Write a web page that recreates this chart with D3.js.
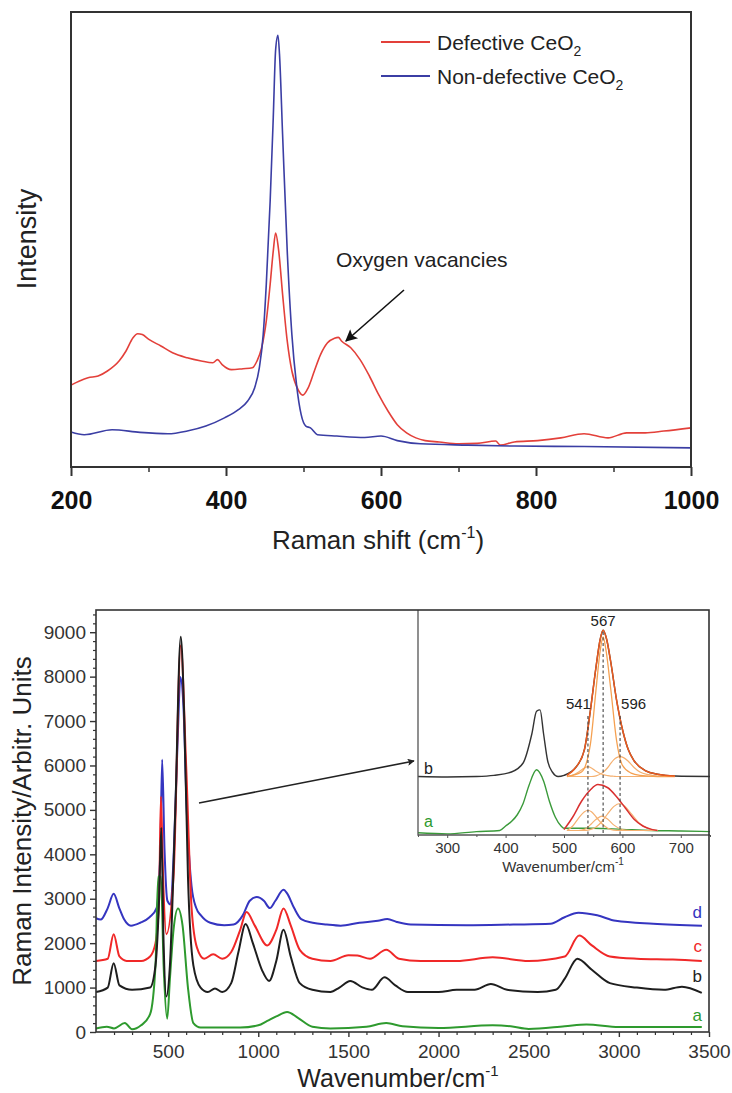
<!DOCTYPE html>
<html>
<head>
<meta charset="utf-8">
<script src="https://cdn.jsdelivr.net/npm/d3@7"></script>
<style>
  body { margin: 0; background: #fff; }
  svg { display: block; font-family: "Liberation Sans", Arial, sans-serif; }
</style>
</head>
<body>
<svg id="chart" width="732" height="1093"></svg>
<script>
// ---------- top chart data (Raman shift, arbitrary intensity 0-100) ----------
var defectiveShift = [200, 211, 222, 235, 247, 262, 271, 280, 286, 292, 301, 316, 331, 350, 368, 383, 389, 395, 407, 422, 434, 440, 446, 452, 457, 461, 464, 468, 473, 479, 485, 493, 499, 506, 514, 522, 531, 540, 545, 549, 561, 573, 585, 597, 609, 621, 633, 645, 657, 675, 700, 724, 748, 754, 772, 802, 832, 862, 893, 917, 941, 965, 1000];
var defectiveInt = [18.0, 18.9, 19.6, 20.0, 21.1, 23.3, 25.5, 28.4, 29.3, 29.1, 28.0, 26.6, 25.1, 24.0, 23.3, 22.9, 23.6, 22.5, 21.4, 21.6, 21.8, 23.3, 26.2, 32.1, 40.2, 47.5, 51.4, 47.5, 38.0, 27.7, 21.1, 17.0, 15.8, 17.4, 21.1, 24.7, 27.3, 28.3, 28.5, 27.7, 26.2, 23.6, 20.0, 15.9, 12.3, 9.3, 7.5, 6.4, 5.8, 5.5, 5.1, 5.2, 5.7, 4.8, 5.5, 5.8, 6.4, 7.3, 6.4, 7.5, 7.5, 7.9, 8.6];
var nonDefShift = [200, 217, 253, 289, 325, 350, 374, 398, 416, 428, 437, 443, 448, 452, 457, 461, 464, 467, 469, 473, 479, 485, 491, 497, 503, 509, 518, 543, 579, 600, 621, 651, 712, 772, 862, 1000];
var nonDefInt = [7.7, 7.1, 8.2, 7.6, 7.3, 7.9, 9.0, 10.8, 12.6, 14.5, 17.4, 21.8, 29.1, 40.2, 58.5, 76.9, 91.6, 94.9, 90.8, 73.2, 47.5, 29.1, 18.1, 11.5, 9.0, 8.6, 7.1, 6.8, 6.5, 6.8, 5.8, 5.1, 4.8, 4.6, 4.5, 4.2];
var topTicks = [200, 400, 600, 800, 1000];
var topMinor = [300, 500, 700, 900];

// ---------- bottom chart data (Wavenumber, intensity) ----------
var wnD = [100, 126, 165, 198, 229, 255, 294, 346, 397, 436, 457, 467, 480, 496, 514, 532, 553, 568, 584, 604, 630, 656, 682, 734, 811, 863, 914, 953, 992, 1031, 1064, 1095, 1140, 1160, 1199, 1238, 1302, 1380, 1457, 1561, 1664, 1716, 1768, 1845, 2156, 2414, 2621, 2699, 2776, 2880, 2983, 3190, 3461];
var intD = [2560, 2530, 2790, 3110, 2790, 2543, 2394, 2460, 2584, 2790, 4112, 6130, 4112, 2955, 2873, 4112, 6589, 7990, 7415, 4938, 3286, 2790, 2626, 2460, 2403, 2419, 2626, 2955, 3039, 2955, 2790, 2955, 3204, 3121, 2790, 2543, 2460, 2419, 2394, 2460, 2502, 2543, 2477, 2419, 2403, 2419, 2436, 2584, 2683, 2626, 2502, 2436, 2394];
var wnC = [100, 165, 198, 230, 270, 350, 400, 430, 450, 460, 472, 490, 530, 570, 600, 630, 660, 700, 750, 800, 850, 900, 935, 980, 1050, 1100, 1140, 1180, 1230, 1300, 1400, 1500, 1550, 1620, 1710, 1780, 1900, 2100, 2300, 2500, 2700, 2780, 2850, 2950, 3100, 3300, 3460];
var intC = [1600, 1650, 2200, 1700, 1600, 1600, 1700, 2000, 3000, 5300, 3500, 2200, 3500, 8700, 6000, 2800, 1900, 1650, 1750, 1650, 1800, 2300, 2700, 2400, 1950, 2300, 2780, 2400, 1850, 1650, 1600, 1730, 1720, 1650, 1850, 1650, 1600, 1600, 1680, 1600, 1700, 2170, 1950, 1700, 1650, 1630, 1600];
var wnB = [100, 165, 198, 230, 300, 400, 430, 450, 462, 475, 490, 510, 540, 570, 590, 610, 640, 680, 720, 760, 800, 850, 890, 930, 970, 1020, 1060, 1100, 1140, 1180, 1230, 1300, 1400, 1450, 1510, 1580, 1630, 1700, 1760, 1830, 2000, 2100, 2200, 2290, 2380, 2550, 2650, 2700, 2770, 2850, 2950, 3100, 3250, 3350, 3460];
var intB = [900, 1000, 1550, 1050, 950, 1000, 1500, 3000, 4600, 2000, 800, 1500, 5000, 8900, 7000, 3500, 1500, 1000, 900, 980, 900, 1100, 1800, 2430, 2000, 1400, 1150, 1600, 2300, 1700, 1100, 950, 900, 1000, 1150, 1000, 950, 1230, 1050, 900, 900, 950, 950, 1080, 950, 900, 950, 1200, 1650, 1400, 1100, 1000, 950, 1020, 880];
var wnA = [100, 160, 200, 260, 300, 350, 400, 430, 445, 460, 475, 495, 510, 530, 555, 580, 610, 640, 680, 900, 1000, 1050, 1100, 1160, 1220, 1300, 1400, 1600, 1710, 1800, 2000, 2300, 2400, 2500, 2700, 2820, 3000, 3460];
var intA = [80, 120, 80, 200, 60, 150, 400, 1500, 3500, 3500, 1500, 300, 1200, 2300, 2780, 2400, 1000, 200, 100, 100, 150, 250, 350, 450, 320, 120, 80, 120, 200, 130, 90, 150, 130, 70, 130, 170, 110, 110];
var bottomXTicks = [500, 1000, 1500, 2000, 2500, 3000, 3500];
var bottomYTicks = [0, 1000, 2000, 3000, 4000, 5000, 6000, 7000, 8000, 9000];
var seriesLabels = ["d", "c", "b", "a"];

// ---------- inset data (Wavenumber 250-750, arbitrary 0-100) ----------
var insetWnB = [250, 300, 350, 380, 410, 430, 445, 453, 459, 465, 472, 480, 490, 500, 520, 535, 545, 555, 562, 567, 573, 580, 590, 600, 610, 620, 640, 660, 690, 750];
var insetIntB = [26, 25.8, 26, 26.5, 28, 32, 45, 55, 55.6, 45, 33, 28, 26, 26.5, 30, 38, 55, 75, 87, 91, 87, 77, 60, 47, 38, 33, 28.5, 27, 26.2, 26];
var insetWnA = [250, 300, 350, 390, 400, 410, 420, 430, 440, 453, 465, 475, 485, 495, 500, 550, 600, 650, 700, 750];
var insetIntA = [1.0, 0.5, 1.5, 2, 4, 6, 9, 14, 22, 29, 24, 15, 8, 4, 3, 3, 2.5, 2, 1.8, 1.5];
var fitWnB = [505, 520, 535, 545, 555, 562, 567, 573, 580, 590, 600, 610, 620, 640, 660, 690];
var fitIntB = [26.5, 30, 38, 55, 75, 87, 91, 87, 77, 60, 47, 38, 33, 28.5, 27, 26.2];
var compWnB = [505, 530, 545, 555, 562, 567, 572, 580, 590, 600, 615, 630, 660, 690];
var compB567 = [26, 28, 40, 65, 82, 88, 82, 65, 42, 31, 27.5, 26.5, 26, 26];
var compWnSmall = [505, 515, 525, 535, 541, 547, 555, 565, 575, 580, 585, 590, 596, 602, 610, 620, 630, 645, 660, 690];
var compB541 = [26, 26.6, 28, 29.8, 30.4, 29.8, 28.3, 27, 26.4, 26.2, 26.1, 26, 26, 26, 26, 26, 26, 26, 26, 26];
var compB596 = [26, 26, 26, 26, 26, 26, 26.3, 27.5, 30, 31.8, 33.4, 34.4, 34.8, 34.4, 32.8, 30, 28, 26.8, 26.2, 26];
var fitWnA = [500, 515, 530, 545, 558, 575, 590, 605, 620, 635, 650, 660];
var fitIntA = [2.4, 8, 15, 20, 22.4, 21, 17, 12, 7, 4, 2.5, 2];
var compWnA = [505, 515, 525, 535, 541, 547, 555, 565, 575, 585, 596, 605, 615, 630, 645, 660];
var compA541 = [2, 4, 7.5, 10.3, 11, 10.3, 8, 5, 3, 2.2, 2, 2, 2, 2, 2, 2];
var compA567 = [2, 2, 2, 2.5, 3.5, 5, 7, 8.4, 7, 4.5, 2.8, 2.2, 2, 2, 2, 2];
var compA596 = [2, 2, 2, 2, 2.2, 2.6, 3.6, 6, 9.5, 12.6, 14, 12.6, 9.5, 5, 2.8, 2];
var fitMarks = [541, 567, 596];
var insetTicks = [300, 400, 500, 600, 700];

var svg = d3.select("#chart");
var frameColor = "#333";

function zip(xs, ys) { return xs.map(function (x, i) { return [x, ys[i]]; }); }

var defs = svg.append("defs");
defs.append("marker")
    .attr("id", "arrow")
    .attr("viewBox", "0 0 10 10")
    .attr("refX", 9).attr("refY", 5)
    .attr("markerWidth", 7).attr("markerHeight", 7)
    .attr("markerUnits", "userSpaceOnUse")
    .attr("orient", "auto")
    .append("path").attr("d", "M0,0L10,5L0,10L2,5Z").attr("fill", "#222");
defs.append("marker")
    .attr("id", "arrowBig")
    .attr("viewBox", "0 0 10 10")
    .attr("refX", 9).attr("refY", 5)
    .attr("markerWidth", 16).attr("markerHeight", 12)
    .attr("markerUnits", "userSpaceOnUse")
    .attr("orient", "auto")
    .append("path").attr("d", "M0,0L10,5L0,10L2,5Z").attr("fill", "#111");

// ===================== TOP CHART =====================
var top1 = { left: 71, top: 12, width: 620, height: 455 };
var tx = d3.scaleLinear().domain([200, 1000]).range([top1.left, top1.left + top1.width]);
var ty = d3.scaleLinear().domain([0, 100]).range([top1.top + top1.height, top1.top]);

var topLine = d3.line().curve(d3.curveMonotoneX)
    .x(function (d) { return tx(d[0]); })
    .y(function (d) { return ty(d[1]); });

svg.append("path").datum(zip(defectiveShift, defectiveInt))
    .attr("d", topLine).attr("fill", "none").attr("stroke", "#e3403a").attr("stroke-width", 1.6);
svg.append("path").datum(zip(nonDefShift, nonDefInt))
    .attr("d", topLine).attr("fill", "none").attr("stroke", "#3b3ea4").attr("stroke-width", 1.6);

svg.append("rect")
    .attr("x", top1.left).attr("y", top1.top)
    .attr("width", top1.width).attr("height", top1.height)
    .attr("fill", "none").attr("stroke", frameColor).attr("stroke-width", 2);

var topAxis = svg.append("g")
    .attr("transform", "translate(0," + (top1.top + top1.height) + ")")
    .call(d3.axisBottom(tx).tickValues(topTicks).tickSize(9).tickPadding(15).tickFormat(d3.format("d")));
topAxis.select(".domain").remove();
topAxis.selectAll(".tick line").attr("stroke", frameColor).attr("stroke-width", 2);
topAxis.selectAll("text")
    .attr("font-size", 25).attr("font-weight", "bold").attr("fill", "#111")
    .attr("font-family", "'Liberation Sans', Arial, sans-serif");
var topMinorAxis = svg.append("g")
    .attr("transform", "translate(0," + (top1.top + top1.height) + ")")
    .call(d3.axisBottom(tx).tickValues(topMinor).tickSize(5).tickFormat(""));
topMinorAxis.select(".domain").remove();
topMinorAxis.selectAll(".tick line").attr("stroke", frameColor).attr("stroke-width", 1.5);

// axis titles
var ramanTitle = svg.append("text")
    .attr("x", 378).attr("y", 549).attr("text-anchor", "middle")
    .attr("font-size", 26).attr("fill", "#222");
ramanTitle.append("tspan").text("Raman shift (cm");
ramanTitle.append("tspan").attr("font-size", 16).attr("dy", -11).text("-1");
ramanTitle.append("tspan").attr("dy", 11).text(")");

svg.append("text")
    .attr("transform", "translate(36,239) rotate(-90)")
    .attr("text-anchor", "middle")
    .attr("font-size", 27).attr("fill", "#222")
    .text("Intensity");

// legend
var legendItems = [
    { label: "Defective CeO", color: "#e3403a", y: 42 },
    { label: "Non-defective CeO", color: "#3b3ea4", y: 76 }
];
legendItems.forEach(function (item) {
    svg.append("line")
        .attr("x1", 381).attr("x2", 430)
        .attr("y1", item.y).attr("y2", item.y)
        .attr("stroke", item.color).attr("stroke-width", 2);
    var t = svg.append("text")
        .attr("x", 437).attr("y", item.y + 7.5)
        .attr("font-size", 21).attr("fill", "#222");
    t.append("tspan").text(item.label);
    t.append("tspan").attr("font-size", 14).attr("dy", 6).text("2");
});

svg.append("text")
    .attr("x", 336).attr("y", 267)
    .attr("font-size", 21).attr("fill", "#222")
    .text("Oxygen vacancies");
svg.append("line")
    .attr("x1", 404).attr("y1", 290)
    .attr("x2", 346).attr("y2", 341)
    .attr("stroke", "#111").attr("stroke-width", 1.6)
    .attr("marker-end", "url(#arrowBig)");

// ===================== BOTTOM CHART =====================
var bot = { left: 96, top: 610, width: 613, height: 422 };
var bx = d3.scaleLinear().domain([100, 3500]).range([bot.left, bot.left + bot.width]);
var by = d3.scaleLinear().domain([0, 9500]).range([bot.top + bot.height, bot.top]);

var botLine = d3.line().curve(d3.curveMonotoneX)
    .x(function (d) { return bx(d[0]); })
    .y(function (d) { return by(d[1]); });

var botSeries = [
    { wn: wnD, v: intD, color: "#3535c0" },
    { wn: wnC, v: intC, color: "#f02828" },
    { wn: wnA, v: intA, color: "#2e9a2e" },
    { wn: wnB, v: intB, color: "#1e1e1e" }
];
botSeries.forEach(function (s) {
    svg.append("path").datum(zip(s.wn, s.v))
        .attr("d", botLine).attr("fill", "none")
        .attr("stroke", s.color).attr("stroke-width", 2);
});

var labelPos = [
    { t: seriesLabels[0], y: 918, color: "#3535c0" },
    { t: seriesLabels[1], y: 952, color: "#f02828" },
    { t: seriesLabels[2], y: 982, color: "#222" },
    { t: seriesLabels[3], y: 1021, color: "#2e9a2e" }
];
labelPos.forEach(function (l) {
    svg.append("text").attr("x", 702).attr("y", l.y).attr("text-anchor", "end")
        .attr("font-size", 17).attr("fill", l.color).text(l.t);
});

// ===================== INSET =====================
var ins = { left: 418, top: 610, width: 292, height: 225 };
var ix = d3.scaleLinear().domain([250, 750]).range([ins.left, ins.left + ins.width]);
var iy = d3.scaleLinear().domain([0, 100]).range([ins.top + ins.height, ins.top]);
var insLine = d3.line().curve(d3.curveMonotoneX)
    .x(function (d) { return ix(d[0]); })
    .y(function (d) { return iy(d[1]); });

svg.append("rect").attr("x", ins.left).attr("y", ins.top)
    .attr("width", ins.width).attr("height", ins.height)
    .attr("fill", "#fff");

var insetCurves = [
    { wn: insetWnA, v: insetIntA, color: "#3a9a3a", w: 1.4 },
    { wn: insetWnB, v: insetIntB, color: "#333", w: 1.4 },
    { wn: compWnSmall, v: compB541, color: "#f5b070", w: 1.2 },
    { wn: compWnSmall, v: compB596, color: "#f5b070", w: 1.2 },
    { wn: compWnB, v: compB567, color: "#f5a050", w: 1.3 },
    { wn: fitWnB, v: fitIntB, color: "#ec5a1e", w: 1.5 },
    { wn: compWnA, v: compA541, color: "#f5b070", w: 1.2 },
    { wn: compWnA, v: compA567, color: "#f5b070", w: 1.2 },
    { wn: compWnA, v: compA596, color: "#f5b070", w: 1.2 },
    { wn: fitWnA, v: fitIntA, color: "#d93030", w: 1.5 }
];
insetCurves.forEach(function (c) {
    svg.append("path").datum(zip(c.wn, c.v))
        .attr("d", insLine).attr("fill", "none")
        .attr("stroke", c.color).attr("stroke-width", c.w);
});

// dashed markers for fitted peaks
var markTop = { 541: 716, 567: 632, 596: 716 };
fitMarks.forEach(function (m) {
    svg.append("line")
        .attr("x1", ix(m)).attr("x2", ix(m))
        .attr("y1", markTop[m]).attr("y2", ins.top + ins.height)
        .attr("stroke", "#444").attr("stroke-width", 1.1)
        .attr("stroke-dasharray", "3,2.5");
});
svg.append("text").attr("x", ix(567)).attr("y", 626).attr("text-anchor", "middle")
    .attr("font-size", 15).attr("fill", "#222").text("567");
svg.append("text").attr("x", ix(541) + 3).attr("y", 709).attr("text-anchor", "end")
    .attr("font-size", 15).attr("fill", "#222").text("541");
svg.append("text").attr("x", ix(596) + 1).attr("y", 709).attr("text-anchor", "start")
    .attr("font-size", 15).attr("fill", "#222").text("596");

svg.append("text").attr("x", 424).attr("y", 774).attr("font-size", 16).attr("fill", "#222").text("b");
svg.append("text").attr("x", 424).attr("y", 827).attr("font-size", 16).attr("fill", "#2e9a2e").text("a");

svg.append("line").attr("x1", ins.left).attr("x2", ins.left + ins.width)
    .attr("y1", iy(26)).attr("y2", iy(26)).attr("stroke", "#555").attr("stroke-width", 0.8).attr("opacity", 0);

var insAxis = svg.append("g")
    .attr("transform", "translate(0," + (ins.top + ins.height) + ")")
    .call(d3.axisBottom(ix).tickValues(insetTicks).tickSize(3).tickPadding(4).tickFormat(d3.format("d")));
insAxis.select(".domain").remove();
insAxis.selectAll(".tick line").attr("stroke", "#555");
insAxis.selectAll("text").attr("font-size", 15).attr("fill", "#333")
    .attr("font-family", "'Liberation Sans', Arial, sans-serif");
var insMinor = svg.append("g")
    .attr("transform", "translate(0," + (ins.top + ins.height) + ")")
    .call(d3.axisBottom(ix).tickValues([250, 350, 450, 550, 650, 750]).tickSize(2).tickFormat(""));
insMinor.select(".domain").remove();
insMinor.selectAll(".tick line").attr("stroke", "#555");

var insTitle = svg.append("text").attr("x", 563).attr("y", 872).attr("text-anchor", "middle")
    .attr("font-size", 15).attr("fill", "#333");
insTitle.append("tspan").text("Wavenumber/cm");
insTitle.append("tspan").attr("font-size", 10).attr("dy", -7).text("-1");

svg.append("path")
    .attr("d", "M" + ins.left + "," + ins.top + "V" + (ins.top + ins.height) + "H" + (ins.left + ins.width))
    .attr("fill", "none").attr("stroke", "#555").attr("stroke-width", 1.3);

// main frame and axes
svg.append("rect")
    .attr("x", bot.left).attr("y", bot.top)
    .attr("width", bot.width).attr("height", bot.height)
    .attr("fill", "none").attr("stroke", frameColor).attr("stroke-width", 1.6);

var bxAxis = svg.append("g")
    .attr("transform", "translate(0," + (bot.top + bot.height) + ")")
    .call(d3.axisBottom(bx).tickValues(bottomXTicks).tickSize(5).tickPadding(8).tickFormat(d3.format("d")));
bxAxis.select(".domain").remove();
bxAxis.selectAll(".tick line").attr("stroke", frameColor).attr("stroke-width", 1.4);
bxAxis.selectAll("text").attr("font-size", 19).attr("fill", "#333")
    .attr("font-family", "'Liberation Sans', Arial, sans-serif");
var bxMinor = svg.append("g")
    .attr("transform", "translate(0," + (bot.top + bot.height) + ")")
    .call(d3.axisBottom(bx).tickValues(d3.range(200, 3500, 100).filter(function (v) { return v % 500 !== 0; })).tickSize(3).tickFormat(""));
bxMinor.select(".domain").remove();
bxMinor.selectAll(".tick line").attr("stroke", frameColor).attr("stroke-width", 1.2);

var byAxis = svg.append("g")
    .attr("transform", "translate(" + bot.left + ",0)")
    .call(d3.axisLeft(by).tickValues(bottomYTicks).tickSize(6).tickPadding(4).tickFormat(d3.format("d")));
byAxis.select(".domain").remove();
byAxis.selectAll(".tick line").attr("stroke", frameColor).attr("stroke-width", 1.4);
byAxis.selectAll("text").attr("font-size", 19).attr("fill", "#333")
    .attr("font-family", "'Liberation Sans', Arial, sans-serif");
var byMinor = svg.append("g")
    .attr("transform", "translate(" + bot.left + ",0)")
    .call(d3.axisLeft(by).tickValues(d3.range(200, 9500, 200).filter(function (v) { return v % 1000 !== 0; })).tickSize(3).tickFormat(""));
byMinor.select(".domain").remove();
byMinor.selectAll(".tick line").attr("stroke", frameColor).attr("stroke-width", 1.2);

var wnTitle = svg.append("text").attr("x", 398).attr("y", 1087).attr("text-anchor", "middle")
    .attr("font-size", 25).attr("fill", "#222");
wnTitle.append("tspan").text("Wavenumber/cm");
wnTitle.append("tspan").attr("font-size", 15).attr("dy", -11).text("-1");

svg.append("text")
    .attr("transform", "translate(31,821) rotate(-90)")
    .attr("text-anchor", "middle")
    .attr("font-size", 26).attr("fill", "#222")
    .text("Raman Intensity/Arbitr. Units");

// arrow from main peak into inset
svg.append("line")
    .attr("x1", 199).attr("y1", 803)
    .attr("x2", 414).attr("y2", 761)
    .attr("stroke", "#222").attr("stroke-width", 1.6)
    .attr("marker-end", "url(#arrow)");
</script>
</body>
</html>
